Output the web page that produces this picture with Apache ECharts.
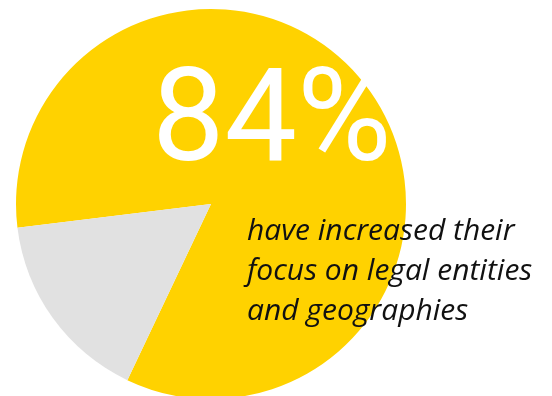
<!DOCTYPE html>
<html>
<head>
<meta charset="utf-8">
<script src="https://cdn.jsdelivr.net/npm/echarts@6/dist/echarts.min.js"></script>
<style>
  html, body { margin: 0; padding: 0; background: #ffffff; }
  #chart { width: 552px; height: 396px; }
</style>
</head>
<body>
<div id="chart"></div>
<script>
// Share of respondents (percent)
const categories = ['Increased focus on legal entities and geographies', 'Other'];
const values = [84, 16];
const sliceColors = ['#FFD200', '#E1E1E1'];
const captionLines = ['have increased their', 'focus on legal entities', 'and geographies'];

const chart = echarts.init(document.getElementById('chart'), null, { renderer: 'canvas' });

const headline = values[0] + '%';

chart.setOption({
  animation: false,
  backgroundColor: '#ffffff',
  series: [{
    type: 'pie',
    center: [211, 204],
    radius: 195,
    startAngle: 187,
    clockwise: true,
    silent: true,
    z: 1,
    label: { show: false },
    labelLine: { show: false },
    itemStyle: { borderWidth: 0 },
    data: categories.map((name, i) => ({
      name: name,
      value: values[i],
      itemStyle: { color: sliceColors[i] }
    }))
  }],
  graphic: {
    elements: [
      {
        type: 'text',
        left: 152,
        top: 63,
        z: 100,
        silent: true,
        style: {
          text: headline,
          fill: '#ffffff',
          font: '400 129px Roboto, "Open Sans", sans-serif'
        }
      },
      {
        type: 'text',
        left: 247,
        top: 211,
        z: 100,
        silent: true,
        style: {
          text: captionLines.join('\n'),
          fill: '#111111',
          lineHeight: 40,
          font: 'italic 400 30px "Open Sans", Roboto, sans-serif'
        }
      }
    ]
  }
});
</script>
</body>
</html>
